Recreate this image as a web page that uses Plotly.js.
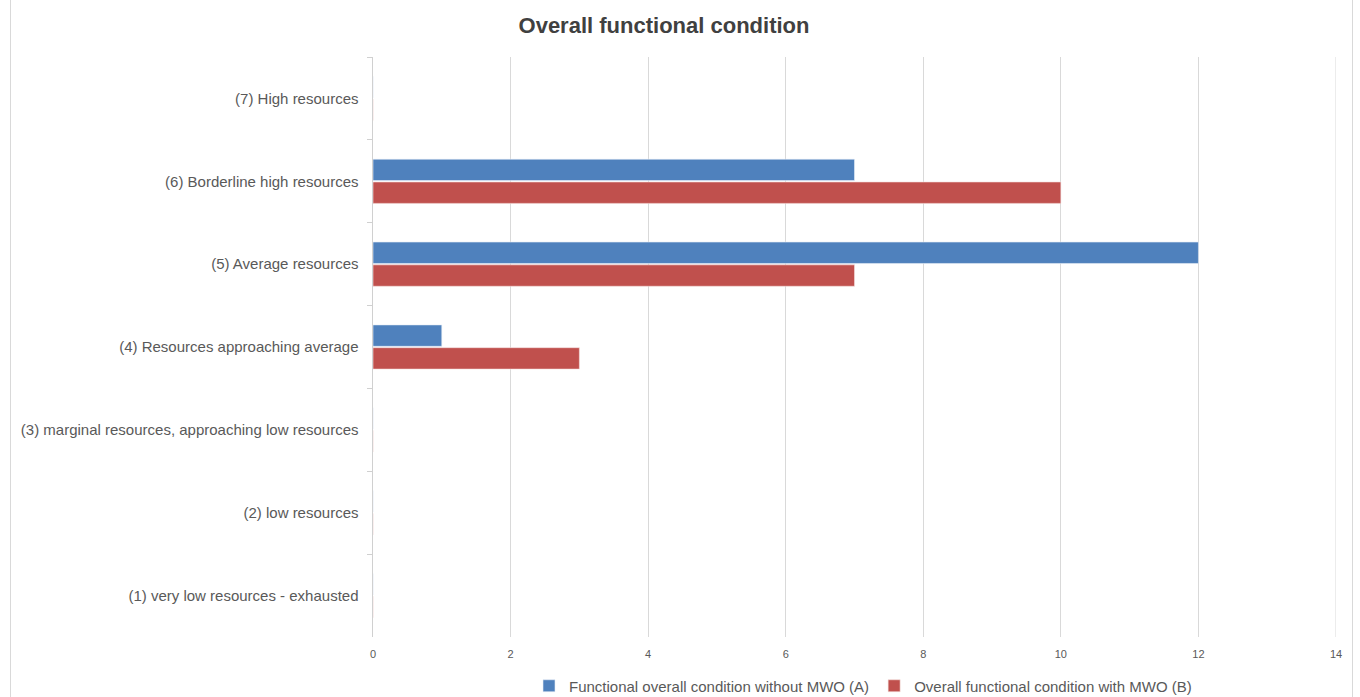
<!DOCTYPE html>
<html>
<head>
<meta charset="utf-8">
<script src="https://cdn.plot.ly/plotly-3.0.1.min.js"></script>
<style>
html,body{margin:0;padding:0;background:#fff;overflow:hidden;}
#frame{position:absolute;left:10px;top:-1px;width:1343px;height:702px;border:1px solid #d9d9d9;box-sizing:border-box;}
#chart{position:absolute;left:0;top:0;width:1360px;height:697px;}
</style>
</head>
<body>
<div id="frame"></div>
<div id="chart"></div>
<script>
const categories = [
  "(7) High resources",
  "(6) Borderline high resources",
  "(5) Average resources",
  "(4) Resources approaching average",
  "(3) marginal resources, approaching low resources",
  "(2) low resources",
  "(1) very low resources - exhausted"
];
const seriesA = [0, 7, 12, 1, 0, 0, 0];
const seriesB = [0, 10, 7, 3, 0, 0, 0];
const nameA = "Functional overall condition without MWO (A)";
const nameB = "Overall functional condition with MWO (B)";
const xTicks = [0, 2, 4, 6, 8, 10, 12, 14];

const font = "Liberation Sans, Arial, sans-serif";
const traces = [
  {type:"bar", orientation:"h", name:nameA, y:categories, x:seriesA,
   marker:{color:"#4f81bd", line:{color:"#e8eef7", width:0.6}}},
  {type:"bar", orientation:"h", name:nameB, y:categories, x:seriesB,
   marker:{color:"#c0504d", line:{color:"#f5e0df", width:0.6}}}
];
const xMax = xTicks[xTicks.length - 1];
const layout = {
  width:1360, height:697,
  margin:{l:373, r:24, t:57, b:60},
  paper_bgcolor:"rgba(0,0,0,0)", plot_bgcolor:"rgba(0,0,0,0)",
  font:{family:font, color:"#595959"},
  title:{text:"Overall functional condition", x:664/1360, xref:"container", xanchor:"center",
         y:1 - 25/697, yref:"container", yanchor:"middle",
         font:{family:font, size:22, color:"#404040", weight:"bold"}},
  barmode:"group", bargap:0.45, bargroupgap:0.06,
  xaxis:{range:[0, xMax], tickvals:xTicks, showgrid:true, gridcolor:"#d9d9d9", gridwidth:1,
         zeroline:false, showline:false, ticks:"", tickfont:{size:11, color:"#595959"},
         ticklabelstandoff:9},
  yaxis:{type:"category", categoryorder:"array", categoryarray:categories, autorange:"reversed",
         showline:true, linecolor:"#d0d0d0", linewidth:1.5, ticks:"outside", tickson:"boundaries",
         ticklen:5, tickcolor:"#d0d0d0", showgrid:false, tickfont:{size:15, color:"#595959"},
         ticklabelstandoff:10},
  shapes:[{type:"line", xref:"x", yref:"paper", x0:xMax, x1:xMax, y0:0, y1:1,
           line:{color:"#d9d9d9", width:1}, layer:"below"}],
  showlegend:true,
  legend:{orientation:"h", x:863/1360, xref:"container", xanchor:"center", y:1 - 686/697, yref:"container",
          yanchor:"middle", font:{size:15, color:"#595959"}, traceorder:"normal"},
};
Plotly.newPlot("chart", traces, layout, {displayModeBar:false, staticPlot:true});
</script>
</body>
</html>
